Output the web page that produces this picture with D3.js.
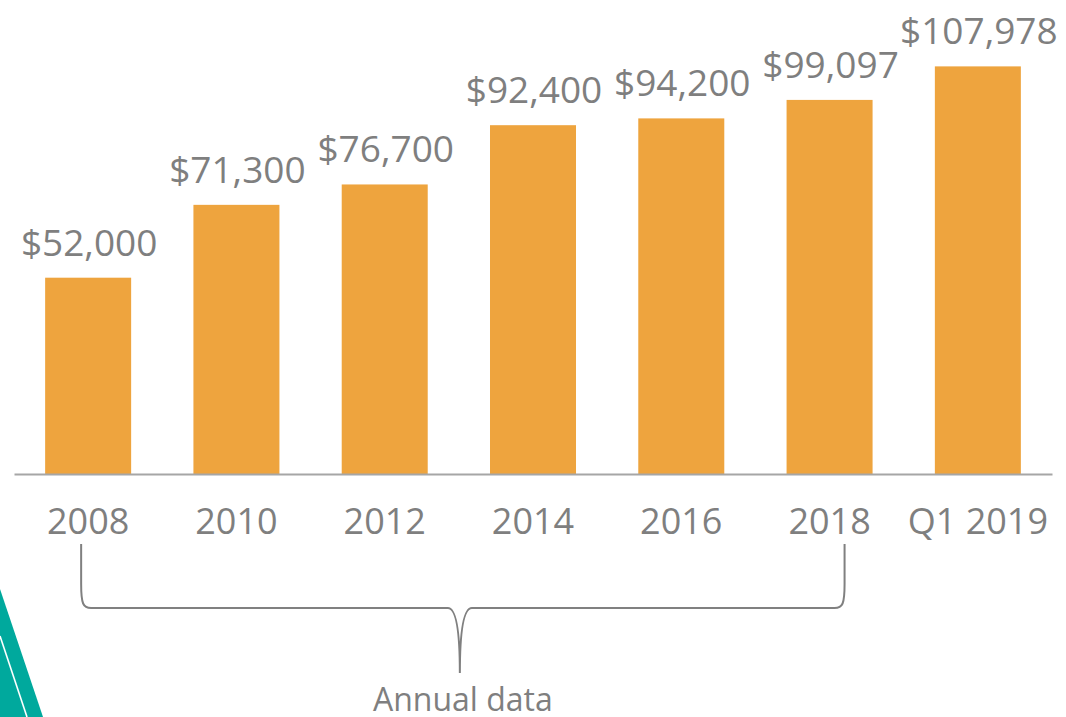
<!DOCTYPE html>
<html>
<head>
<meta charset="utf-8">
<script src="https://cdn.jsdelivr.net/npm/d3@7"></script>
<style>
  body { margin: 0; background: #fff; }
  svg { display: block; }
  text { font-family: "Open Sans", sans-serif; fill: #7f7f7f; }
</style>
</head>
<body>
<svg id="chart" width="1066" height="717"></svg>
<script>
// chart values
const categories = ["2008", "2010", "2012", "2014", "2016", "2018", "Q1 2019"];
const values = [52000, 71300, 76700, 92400, 94200, 99097, 107978];
const braceLabel = "Annual data";

const width = 1066, height = 717;
const baseline = 474;

const svg = d3.select("#chart");

// teal corner decoration
svg.append("path")
    .attr("d", "M0,589 L43,717 L0,717 Z")
    .style("fill", "#00a99d");
svg.append("line")
    .attr("x1", 0).attr("y1", 636)
    .attr("x2", 27).attr("y2", 717)
    .style("stroke", "#fff")
    .style("stroke-width", 1.6);

let xScale = d3.scaleBand()
    .domain(categories)
    .range([14, 1052])
    .paddingInner(0.42)
    .paddingOuter(0.21);

let yScale = d3.scaleLinear()
    .domain([0, 120000])
    .range([baseline, 21]);

// bars
svg.selectAll(".bar")
    .data(values)
    .enter().append("rect")
    .attr("class", "bar")
    .attr("x", function(d, i) { return xScale(categories[i]); })
    .attr("y", function(d) { return yScale(d); })
    .attr("width", xScale.bandwidth())
    .attr("height", function(d) { return baseline - yScale(d); })
    .style("fill", "#eea43e");

// value labels
svg.selectAll(".val_label")
    .data(values)
    .enter().append("text")
    .attr("class", "val_label")
    .attr("x", function(d, i) { return xScale(categories[i]) + xScale.bandwidth() / 2 + 1; })
    .attr("y", function(d) { return yScale(d) - 22; })
    .style("text-anchor", "middle")
    .style("font-size", "37px")
    .text(function(d) { return "$" + d3.format(",")(d); });

// x axis
let xAxis = svg.append("g")
    .attr("transform", "translate(0," + baseline + ")")
    .call(d3.axisBottom(xScale).tickSize(0).tickPadding(34));
xAxis.select(".domain")
    .style("stroke", "#a6a6a6")
    .style("stroke-width", 2);
xAxis.selectAll("text")
    .style("font-size", "36px")
    .style("font-family", "'Open Sans', sans-serif")
    .style("fill", "#7f7f7f");

// brace under the annual years
let bx0 = xScale("2008") + xScale.bandwidth() / 2 - 7;
let bx1 = xScale("2018") + xScale.bandwidth() / 2 + 15;
let bmid = (bx0 + bx1) / 2 - 3;
let btop = 544, by = 608, btip = 673, r = 10;
let brace = d3.path();
brace.moveTo(bx0, btop);
brace.lineTo(bx0, by - 24);
brace.bezierCurveTo(bx0, by - 4, bx0 + 2, by, bx0 + r, by);
brace.lineTo(bmid - 12, by);
brace.bezierCurveTo(bmid - 4, by, bmid, by + 20, bmid, btip);
brace.bezierCurveTo(bmid, by + 20, bmid + 4, by, bmid + 12, by);
brace.lineTo(bx1 - r, by);
brace.bezierCurveTo(bx1 - 2, by, bx1, by - 4, bx1, by - 24);
brace.lineTo(bx1, btop);
svg.append("path")
    .attr("d", brace.toString())
    .style("fill", "none")
    .style("stroke", "#808080")
    .style("stroke-width", 2);

svg.append("text")
    .attr("x", bmid + 3)
    .attr("y", 711)
    .style("text-anchor", "middle")
    .style("font-size", "32px")
    .text(braceLabel);
</script>
</body>
</html>
